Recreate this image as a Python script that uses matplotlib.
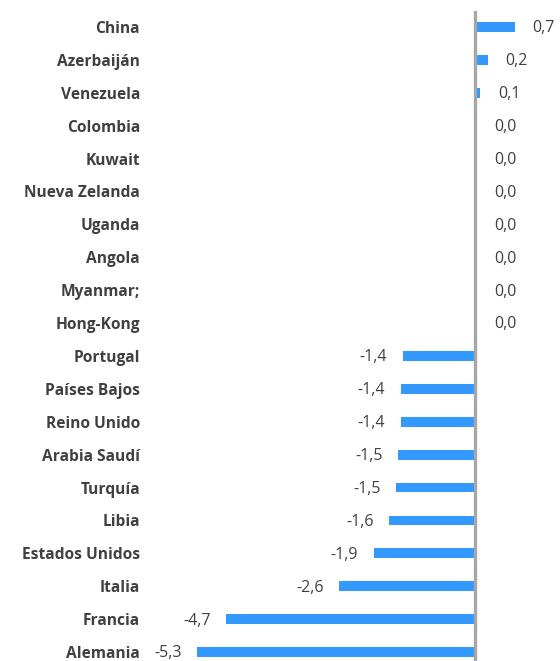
import matplotlib
matplotlib.use("Agg")
import matplotlib.pyplot as plt

countries = ["China", "Azerbaiján", "Venezuela", "Colombia", "Kuwait",
             "Nueva Zelanda", "Uganda", "Angola", "Myanmar;", "Hong-Kong",
             "Portugal", "Países Bajos", "Reino Unido", "Arabia Saudí",
             "Turquía", "Libia", "Estados Unidos", "Italia", "Francia",
             "Alemania"]
values = [0.74, 0.23, 0.08, 0.02, 0.02, 0.02, 0.02, 0.02, 0.02, 0.02,
          -1.38, -1.42, -1.42, -1.46, -1.50, -1.63, -1.93, -2.58, -4.72,
          -5.28]

BAR = "#3399FF"
TXT = "#404040"

fig = plt.figure(figsize=(5.6, 6.61), dpi=100)
ax = fig.add_axes([158.7 / 560, -7.5 / 661, 369.6 / 560, 658 / 661])

n = len(countries)
ypos = [n - 1 - i for i in range(n)]
ax.barh(ypos, values, height=0.3, color=BAR, zorder=2)
ax.axvline(0, color="#A6A6A6", lw=2.4, zorder=3)

ax.set_xlim(-6, 1)
ax.set_ylim(-0.5, n - 0.5)
ax.set_yticks(ypos)
ax.set_yticklabels(countries, fontfamily="Open Sans", fontweight="bold",
                   fontsize=11.2, color=TXT)
ax.tick_params(axis="y", length=0, pad=13.5)
ax.set_xticks([])
for s in ax.spines.values():
    s.set_visible(False)

for y, v in zip(ypos, values):
    lab = f"{v:.1f}".replace(".", ",")
    if v >= 0:
        ax.annotate(lab, (v, y), xytext=(13, -1), textcoords="offset points",
                    ha="left", va="center", fontfamily="Open Sans",
                    fontsize=11.5, color=TXT)
    else:
        ax.annotate(lab, (v, y), xytext=(-11, -1), textcoords="offset points",
                    ha="right", va="center", fontfamily="Open Sans",
                    fontsize=11.5, color=TXT)

fig.savefig("out.png", dpi=100)
